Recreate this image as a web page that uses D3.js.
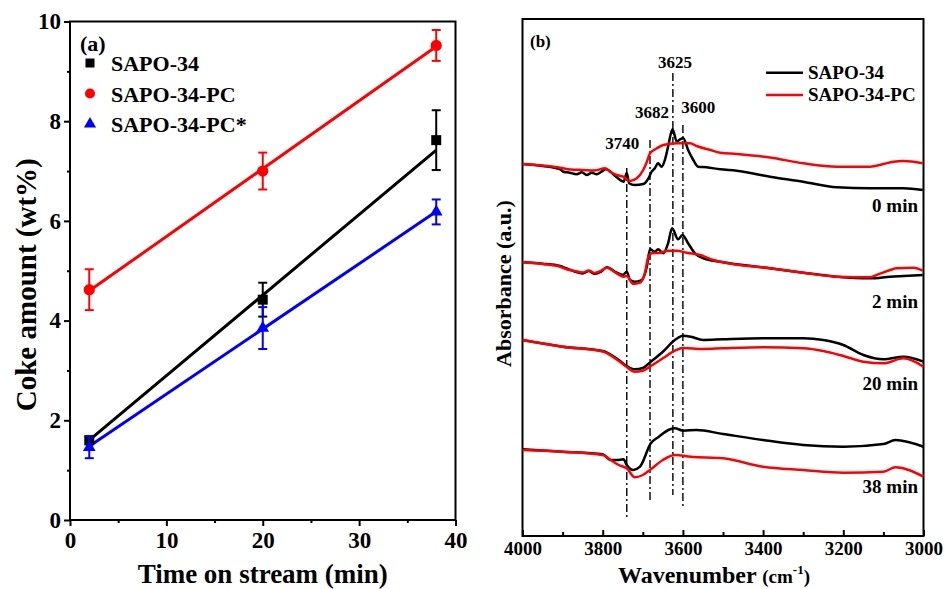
<!DOCTYPE html>
<html>
<head>
<meta charset="utf-8">
<script src="https://cdn.jsdelivr.net/npm/d3@7"></script>
<style>
  html, body { margin: 0; padding: 0; background: #fff; }
  svg text { font-family: "Liberation Serif", "Times New Roman", serif; font-weight: bold; fill: #000; }
</style>
</head>
<body>
<svg id="fig" width="945" height="589"></svg>
<script>
// ---------- (a) coke amount vs. time on stream ----------
const timeOnStream = [2, 20, 38];
const cokeSeries = ["SAPO-34", "SAPO-34-PC", "SAPO-34-PC*"];
const cokeSapo34 = [1.6, 4.42, 7.62];
const cokeSapo34PC = [4.62, 7.0, 9.52];
const cokeSapo34PCStar = [1.46, 3.85, 6.18];
const errSapo34 = [0.08, 0.34, 0.6];
const errSapo34PC = [0.41, 0.37, 0.31];
const errSapo34PCStar = [0.22, 0.42, 0.25];
const fitSlope = [0.1617, 0.1361, 0.1308];
const fitIntercept = [1.277, 4.325, 1.216];
const timeTicks = [0, 10, 20, 30, 40];
const timeMinorTicks = [5, 15, 25, 35];
const cokeTicks = [0, 2, 4, 6, 8, 10];
const cokeMinorTicks = [1, 3, 5, 7, 9];

// ---------- (b) in-situ IR spectra, hydroxyl region ----------
const irSeries = ["SAPO-34", "SAPO-34-PC"];
const irTimes = ["0 min", "2 min", "20 min", "38 min"];
const ir0Sapo34 = [[4000,3.72],[3950,3.70],[3906,3.667],[3898,3.643],[3882,3.633],[3865,3.617],[3852,3.637],[3840,3.61],[3827,3.633],[3815,3.617],[3803,3.643],[3792,3.667],[3765,3.587],[3748,3.543],[3740,3.63],[3734,3.527],[3720,3.51],[3699,3.52],[3686,3.577],[3678,3.643],[3670,3.677],[3662,3.727],[3653,3.693],[3645,3.76],[3637,3.893],[3626,4.067],[3615,3.943],[3607,3.967],[3599,3.977],[3587,3.86],[3574,3.76],[3562,3.693],[3541,3.687],[3507,3.667],[3466,3.653],[3383,3.593],[3300,3.543],[3216,3.487],[3133,3.477],[3050,3.477],[3002,3.46]];
const ir0Sapo34PC = [[4000,3.72],[3950,3.705],[3906,3.683],[3880,3.665],[3850,3.66],[3820,3.655],[3794,3.677],[3782,3.643],[3765,3.61],[3749,3.593],[3732,3.55],[3715,3.577],[3699,3.66],[3690,3.74],[3682,3.827],[3665,3.877],[3649,3.91],[3615,3.927],[3582,3.927],[3566,3.90],[3532,3.86],[3507,3.833],[3466,3.82],[3383,3.785],[3300,3.727],[3216,3.693],[3133,3.693],[3100,3.72],[3075,3.743],[3050,3.75],[3002,3.727]];
const ir2Sapo34 = [[4000,2.737],[3950,2.723],[3906,2.70],[3890,2.675],[3870,2.645],[3850,2.625],[3835,2.65],[3820,2.62],[3805,2.64],[3790,2.687],[3765,2.633],[3749,2.61],[3740,2.643],[3732,2.56],[3720,2.543],[3703,2.56],[3690,2.693],[3682,2.867],[3670,2.843],[3662,2.867],[3649,2.827],[3637,2.927],[3627,3.077],[3612,2.967],[3601,3.01],[3587,2.927],[3570,2.827],[3549,2.777],[3507,2.743],[3383,2.677],[3300,2.633],[3216,2.593],[3133,2.577],[3083,2.593],[3050,2.60],[3002,2.61]];
const ir2Sapo34PC = [[4000,2.737],[3950,2.72],[3906,2.693],[3890,2.667],[3870,2.65],[3850,2.635],[3835,2.655],[3820,2.63],[3805,2.65],[3790,2.683],[3765,2.627],[3748,2.593],[3740,2.60],[3724,2.52],[3707,2.533],[3695,2.627],[3686,2.793],[3678,2.827],[3657,2.833],[3637,2.853],[3615,2.853],[3591,2.833],[3557,2.81],[3524,2.76],[3507,2.743],[3383,2.677],[3300,2.633],[3216,2.593],[3133,2.587],[3117,2.61],[3083,2.66],[3067,2.677],[3025,2.683],[3002,2.653]];
const ir20Sapo34 = [[4000,1.96],[3900,1.893],[3800,1.85],[3760,1.76],[3740,1.70],[3720,1.667],[3700,1.68],[3680,1.743],[3650,1.843],[3620,1.96],[3600,2.003],[3580,1.993],[3550,1.96],[3500,1.967],[3400,1.977],[3300,1.977],[3250,1.96],[3200,1.91],[3150,1.81],[3100,1.767],[3050,1.793],[3000,1.743]];
const ir20Sapo34PC = [[4000,1.96],[3900,1.893],[3800,1.845],[3760,1.75],[3740,1.69],[3720,1.643],[3700,1.653],[3680,1.70],[3650,1.777],[3620,1.853],[3600,1.88],[3550,1.87],[3500,1.877],[3400,1.887],[3300,1.877],[3250,1.85],[3200,1.80],[3150,1.743],[3100,1.727],[3050,1.777],[3000,1.693]];
const ir38Sapo34 = [[4000,0.867],[3900,0.843],[3800,0.817],[3780,0.76],[3765,0.76],[3748,0.767],[3740,0.71],[3724,0.66],[3707,0.693],[3680,0.927],[3660,0.993],[3632,1.067],[3620,1.077],[3599,1.053],[3566,1.06],[3500,1.02],[3400,0.96],[3300,0.91],[3200,0.893],[3100,0.92],[3070,0.96],[3000,0.893]];
const ir38Sapo34PC = [[4000,0.86],[3900,0.843],[3800,0.81],[3780,0.76],[3760,0.71],[3740,0.677],[3720,0.587],[3700,0.61],[3680,0.667],[3650,0.76],[3620,0.81],[3580,0.793],[3500,0.777],[3400,0.693],[3300,0.66],[3200,0.633],[3100,0.643],[3070,0.687],[3000,0.593]];
const bandCenters = [3740, 3682, 3625, 3600];
const wnTicks = [4000, 3800, 3600, 3400, 3200, 3000];
const wnMinorTicks = [3900, 3700, 3500, 3300, 3100];

const svg = d3.select("#fig");
const black = "#000000", red = "#ff0000", blue = "#0000ff";

// ===================== panel (a) =====================
const xA = d3.scaleLinear().domain([0, 40]).range([70, 455.5]);
const yA = d3.scaleLinear().domain([0, 10]).range([520, 21.5]);
const gA = svg.append("g");

gA.append("rect")
  .attr("x", xA(0)).attr("y", yA(10))
  .attr("width", xA(40) - xA(0)).attr("height", yA(0) - yA(10))
  .attr("fill", "none").attr("stroke", black).attr("stroke-width", 2);

function styleAxis(g, fs) {
  g.select(".domain").remove();
  g.selectAll(".tick line").attr("stroke", black).attr("stroke-width", 2);
  g.selectAll(".tick text").style("font-size", fs + "px");
}

gA.append("g").attr("transform", `translate(0,${yA(0)})`)
  .call(d3.axisBottom(xA).tickValues(timeTicks).tickSize(6).tickPadding(6).tickFormat(d3.format("d")))
  .call(g => styleAxis(g, 23));
gA.append("g").attr("transform", `translate(0,${yA(0)})`)
  .call(d3.axisBottom(xA).tickValues(timeMinorTicks).tickSize(3).tickFormat(""))
  .call(g => styleAxis(g, 23));
gA.append("g").attr("transform", `translate(${xA(0)},0)`)
  .call(d3.axisLeft(yA).tickValues(cokeTicks).tickSize(6).tickPadding(3).tickFormat(d3.format("d")))
  .call(g => styleAxis(g, 23));
gA.append("g").attr("transform", `translate(${xA(0)},0)`)
  .call(d3.axisLeft(yA).tickValues(cokeMinorTicks).tickSize(3).tickFormat(""))
  .call(g => styleAxis(g, 23));

gA.append("text").attr("x", (xA(0) + xA(40)) / 2).attr("y", 583)
  .attr("text-anchor", "middle").style("font-size", "27px").text("Time on stream (min)");
gA.append("text").attr("transform", `translate(36,${(yA(0) + yA(10)) / 2 + 14}) rotate(-90)`)
  .attr("text-anchor", "middle").style("font-size", "29px").text("Coke amount (wt%)");

const seriesA = [
  { name: cokeSeries[0], y: cokeSapo34, err: errSapo34, color: black, shape: d3.symbolSquare, size: 100, lsize: 81 },
  { name: cokeSeries[1], y: cokeSapo34PC, err: errSapo34PC, color: red, shape: d3.symbolCircle, size: 100, lsize: 80 },
  { name: cokeSeries[2], y: cokeSapo34PCStar, err: errSapo34PCStar, color: blue, shape: d3.symbolTriangle, size: 70, lsize: 64 }
];

// linear fits
seriesA.forEach((s, i) => {
  const x0 = d3.min(timeOnStream), x1 = d3.max(timeOnStream);
  gA.append("line")
    .attr("x1", xA(x0)).attr("y1", yA(fitIntercept[i] + fitSlope[i] * x0))
    .attr("x2", xA(x1)).attr("y2", yA(fitIntercept[i] + fitSlope[i] * x1))
    .attr("stroke", s.color).attr("stroke-width", 3);
});

// error bars and markers
seriesA.forEach(s => {
  const g = gA.append("g").attr("stroke", s.color).attr("stroke-width", 2);
  timeOnStream.forEach((t, j) => {
    const lo = s.y[j] - s.err[j], hi = s.y[j] + s.err[j];
    g.append("line").attr("x1", xA(t)).attr("x2", xA(t)).attr("y1", yA(lo)).attr("y2", yA(hi));
    g.append("line").attr("x1", xA(t) - 4.5).attr("x2", xA(t) + 4.5).attr("y1", yA(lo)).attr("y2", yA(lo));
    g.append("line").attr("x1", xA(t) - 4.5).attr("x2", xA(t) + 4.5).attr("y1", yA(hi)).attr("y2", yA(hi));
  });
  gA.selectAll(null).data(timeOnStream).enter().append("path")
    .attr("transform", (t, j) => `translate(${xA(t)},${yA(s.y[j])})`)
    .attr("d", d3.symbol().type(s.shape).size(s.size))
    .attr("fill", s.color);
});

// legend (a)
gA.append("text").attr("x", 80).attr("y", 51).style("font-size", "22px").text("(a)");
seriesA.forEach((s, i) => {
  const ly = 63 + i * 30.5;
  gA.append("path").attr("transform", `translate(90,${ly})`)
    .attr("d", d3.symbol().type(s.shape).size(s.lsize)).attr("fill", s.color);
  gA.append("text").attr("x", 111).attr("y", ly + 8).style("font-size", "22px").text(s.name);
});

// ===================== panel (b) =====================
const xB = d3.scaleLinear().domain([4000, 3000]).range([522.5, 923.5]);
const yB = d3.scaleLinear().domain([0, 5.17]).range([536, 19]);
const gB = svg.append("g");

gB.append("rect")
  .attr("x", xB(4000)).attr("y", yB(5.17))
  .attr("width", xB(3000) - xB(4000)).attr("height", yB(0) - yB(5.17))
  .attr("fill", "none").attr("stroke", black).attr("stroke-width", 2);

gB.append("g").attr("transform", `translate(0,${yB(0)})`)
  .call(d3.axisBottom(xB).tickValues(wnTicks).tickSize(-6).tickPadding(6).tickFormat(d3.format("d")))
  .call(g => styleAxis(g, 19));
gB.append("g").attr("transform", `translate(0,${yB(0)})`)
  .call(d3.axisBottom(xB).tickValues(wnMinorTicks).tickSize(-4).tickFormat(""))
  .call(g => styleAxis(g, 19));

const xt = gB.append("text").attr("x", 714).attr("y", 583)
  .attr("text-anchor", "middle").style("font-size", "24px");
xt.append("tspan").text("Wavenumber ");
xt.append("tspan").style("font-size", "19px").text("(cm");
xt.append("tspan").style("font-size", "13px").attr("dy", -9).text("-1");
xt.append("tspan").style("font-size", "19px").attr("dy", 9).text(")");

gB.append("text").attr("transform", `translate(511,${(yB(0) + yB(5.17)) / 2 + 6}) rotate(-90)`)
  .attr("text-anchor", "middle").style("font-size", "22px").text("Absorbance (a.u.)");

gB.append("text").attr("x", 530).attr("y", 47).style("font-size", "17px").text("(b)");

// band markers (dash-dot guides with band positions)
const bandTop = [3.68, 3.96, 4.63, 4.11];
const bandBottom = [0.18, 0.34, 0.41, 0.28];
const bandLabelWn = [3751, 3677, 3620, 3562];
const bandLabelAbs = [3.87, 4.177, 4.677, 4.227];
bandCenters.forEach((wn, i) => {
  gB.append("line")
    .attr("x1", xB(wn)).attr("x2", xB(wn))
    .attr("y1", yB(bandTop[i])).attr("y2", yB(bandBottom[i]))
    .attr("stroke", black).attr("stroke-width", 1.4)
    .attr("stroke-dasharray", "8,3,2,3");
  gB.append("text").attr("x", xB(bandLabelWn[i])).attr("y", yB(bandLabelAbs[i]))
    .attr("text-anchor", "middle").style("font-size", "17px").text(wn);
});

// spectra
const line = d3.line().x(d => xB(d[0])).y(d => yB(d[1])).curve(d3.curveMonotoneX);
const pairs = [
  [ir0Sapo34, ir0Sapo34PC],
  [ir2Sapo34, ir2Sapo34PC],
  [ir20Sapo34, ir20Sapo34PC],
  [ir38Sapo34, ir38Sapo34PC]
];
pairs.forEach(p => {
  gB.append("path").attr("d", line(p[0])).attr("fill", "none").attr("stroke", black)
    .attr("stroke-width", 2.5).attr("stroke-linejoin", "round");
  gB.append("path").attr("d", line(p[1])).attr("fill", "none").attr("stroke", red)
    .attr("stroke-width", 2.5).attr("stroke-linejoin", "round");
});

// time-on-stream labels
const timeLabelAbs = [3.24, 2.28, 1.46, 0.43];
irTimes.forEach((t, i) => {
  gB.append("text").attr("x", 918).attr("y", yB(timeLabelAbs[i]))
    .attr("text-anchor", "end").style("font-size", "19px").text(t);
});

// legend (b)
[black, red].forEach((c, i) => {
  const ly = 72.7 + i * 22.3;
  gB.append("line").attr("x1", 766).attr("x2", 803).attr("y1", ly).attr("y2", ly)
    .attr("stroke", c).attr("stroke-width", 2.5);
  gB.append("text").attr("x", 808).attr("y", ly + 6).style("font-size", "19px").text(irSeries[i]);
});
</script>
</body>
</html>
